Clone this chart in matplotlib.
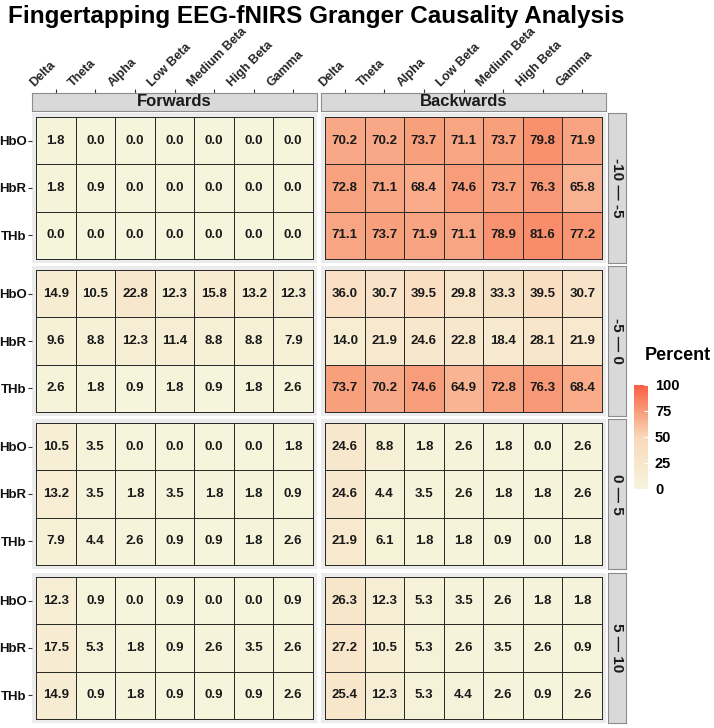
import numpy as np
import matplotlib
matplotlib.use("Agg")
import matplotlib.pyplot as plt
from matplotlib.colors import LinearSegmentedColormap

plt.rcParams['font.family'] = ['Liberation Sans', 'DejaVu Sans']

bands = ['Delta', 'Theta', 'Alpha', 'Low Beta', 'Medium Beta', 'High Beta', 'Gamma']
signals = ['HbO', 'HbR', 'THb']
directions = ['Forwards', 'Backwards']
lags = ['-10 \u2014 -5', '-5 \u2014 0', '0 \u2014 5', '5 \u2014 10']

# rows: HbO, HbR, THb
fwd_m10_m5 = [[1.8, 0.0, 0.0, 0.0, 0.0, 0.0, 0.0],
              [1.8, 0.9, 0.0, 0.0, 0.0, 0.0, 0.0],
              [0.0, 0.0, 0.0, 0.0, 0.0, 0.0, 0.0]]
bwd_m10_m5 = [[70.2, 70.2, 73.7, 71.1, 73.7, 79.8, 71.9],
              [72.8, 71.1, 68.4, 74.6, 73.7, 76.3, 65.8],
              [71.1, 73.7, 71.9, 71.1, 78.9, 81.6, 77.2]]
fwd_m5_0 = [[14.9, 10.5, 22.8, 12.3, 15.8, 13.2, 12.3],
            [9.6, 8.8, 12.3, 11.4, 8.8, 8.8, 7.9],
            [2.6, 1.8, 0.9, 1.8, 0.9, 1.8, 2.6]]
bwd_m5_0 = [[36.0, 30.7, 39.5, 29.8, 33.3, 39.5, 30.7],
            [14.0, 21.9, 24.6, 22.8, 18.4, 28.1, 21.9],
            [73.7, 70.2, 74.6, 64.9, 72.8, 76.3, 68.4]]
fwd_0_5 = [[10.5, 3.5, 0.0, 0.0, 0.0, 0.0, 1.8],
           [13.2, 3.5, 1.8, 3.5, 1.8, 1.8, 0.9],
           [7.9, 4.4, 2.6, 0.9, 0.9, 1.8, 2.6]]
bwd_0_5 = [[24.6, 8.8, 1.8, 2.6, 1.8, 0.0, 2.6],
           [24.6, 4.4, 3.5, 2.6, 1.8, 1.8, 2.6],
           [21.9, 6.1, 1.8, 1.8, 0.9, 0.0, 1.8]]
fwd_5_10 = [[12.3, 0.9, 0.0, 0.9, 0.0, 0.0, 0.9],
            [17.5, 5.3, 1.8, 0.9, 2.6, 3.5, 2.6],
            [14.9, 0.9, 1.8, 0.9, 0.9, 0.9, 2.6]]
bwd_5_10 = [[26.3, 12.3, 5.3, 3.5, 2.6, 1.8, 1.8],
            [27.2, 10.5, 5.3, 2.6, 3.5, 2.6, 0.9],
            [25.4, 12.3, 5.3, 4.4, 2.6, 0.9, 2.6]]

grid_data = [[fwd_m10_m5, bwd_m10_m5],
             [fwd_m5_0, bwd_m5_0],
             [fwd_0_5, bwd_0_5],
             [fwd_5_10, bwd_5_10]]

cmap = LinearSegmentedColormap.from_list(
    'pct', [(0.0, '#F5F5DC'), (0.5, '#FAD8BB'), (0.75, '#F89C79'), (1.0, '#FA5E44')])

W, H = 714, 728
fig = plt.figure(figsize=(W / 100, H / 100), dpi=100)


def px_axes(x0, y0, x1, y1):
    return fig.add_axes([x0 / W, 1 - y1 / H, (x1 - x0) / W, (y1 - y0) / H])


col_x = [(32, 317), (321, 606)]
row_y = [(113, 263), (266, 416), (419, 569), (573, 723)]

mesh = None
for r, (y0, y1) in enumerate(row_y):
    for c, (x0, x1) in enumerate(col_x):
        ax = px_axes(x0, y0, x1, y1)
        ax.set_facecolor('#EBEBEB')
        vals = np.array(grid_data[r][c])
        mesh = ax.pcolormesh(np.arange(len(bands) + 1) - 0.5, np.arange(len(signals) + 1) - 0.5, vals,
                             cmap=cmap, vmin=0, vmax=100, edgecolors='#2b2b2b', linewidth=0.6)
        for i in range(len(signals)):
            for j in range(len(bands)):
                ax.text(j, i, f"{vals[i, j]:.1f}", ha='center', va='center',
                        fontsize=9.5, fontweight='bold', color='#1a1a1a')
        ax.set_xlim(-0.6, len(bands) - 0.4)
        ax.set_ylim(len(signals) - 0.41, -0.59)
        for s in ax.spines.values():
            s.set_visible(False)
        ax.set_xticks([])
        if c == 0:
            ax.set_yticks(range(len(signals)))
            ax.set_yticklabels(signals, fontsize=9.5, fontweight='bold', color='#111111')
            ax.tick_params(axis='y', length=3, width=0.8, color='#333333', pad=1)
        else:
            ax.set_yticks([])
    # row strip
    sx = px_axes(608, y0, 626, y1)
    sx.set_facecolor('#D9D9D9')
    sx.set_xticks([])
    sx.set_yticks([])
    for s in sx.spines.values():
        s.set_color('#8C8C8C')
        s.set_linewidth(0.8)
    sx.text(0.5, 0.5, lags[r], rotation=-90, ha='center', va='center', transform=sx.transAxes,
            fontsize=11, fontweight='bold', color='#1a1a1a')

# column strips with top axis ticks and labels
for c, (x0, x1) in enumerate(col_x):
    sx = px_axes(x0, 93, x1, 111)
    sx.set_facecolor('#D9D9D9')
    sx.set_xlim(-0.6, len(bands) - 0.4)
    sx.set_yticks([])
    sx.set_xticks(range(len(bands)))
    sx.set_xticklabels([])
    sx.tick_params(axis='x', top=True, bottom=False, length=3, width=0.8, color='#333333')
    for s in sx.spines.values():
        s.set_color('#8C8C8C')
        s.set_linewidth(0.8)
    sx.text(0.5, 0.5, directions[c], ha='center', va='center', transform=sx.transAxes,
            fontsize=12, fontweight='bold', color='#1a1a1a')
    tile_w = (x1 - x0) / (len(bands) + 0.2)
    for j, b in enumerate(bands):
        tx = x0 + tile_w * (j + 0.6)
        fig.text((tx - 20) / W, 1 - 89 / H, b, rotation=45, rotation_mode='anchor',
                 ha='left', va='bottom', fontsize=9, fontweight='bold', color='#262626')

fig.text(8 / W, 1 - 17 / H, 'Fingertapping EEG-fNIRS Granger Causality Analysis',
         ha='left', va='center', fontsize=17.5, fontweight='bold', color='black')

# legend
cax = px_axes(634, 385, 648, 489)
cb = fig.colorbar(mesh, cax=cax, ticks=[0, 25, 50, 75, 100])
cb.outline.set_visible(False)
cax.tick_params(length=3, width=0.8, color='white', direction='in', pad=5)
for t in cax.get_yticklabels():
    t.set_fontsize(10.5)
    t.set_fontweight('bold')
fig.text(645 / W, 1 - 355 / H, 'Percent', ha='left', va='center', fontsize=13, fontweight='bold')

fig.savefig('out.png', dpi=100)
